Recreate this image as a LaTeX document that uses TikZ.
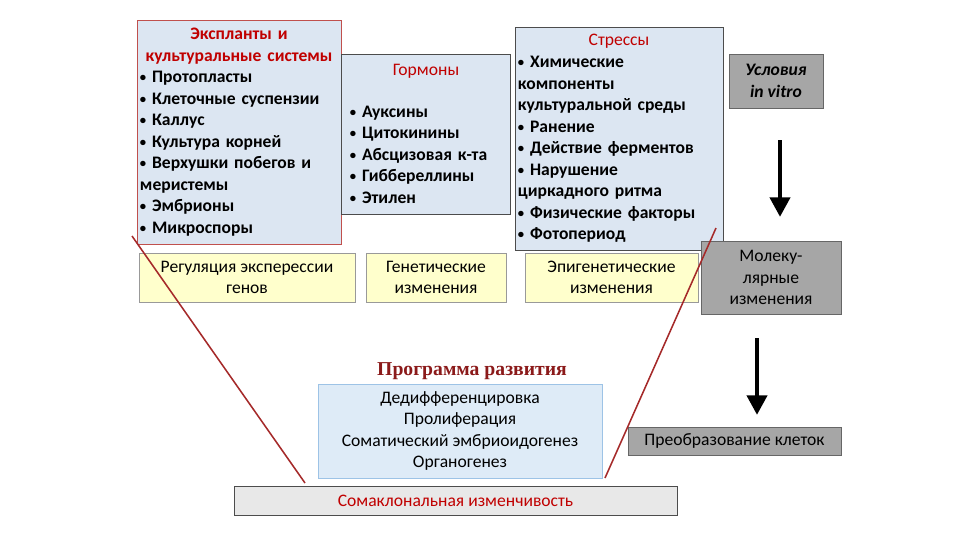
\documentclass[tikz,border=0pt]{standalone}
\usepackage{fontspec}
\setmainfont{Carlito}
\newfontfamily\timesfont{Liberation Serif}
\usetikzlibrary{positioning, arrows.meta}
\definecolor{boxblue}{HTML}{DCE6F2}
\definecolor{progblue}{HTML}{DEEBF7}
\definecolor{progline}{HTML}{9DC3E6}
\definecolor{boxyellow}{HTML}{FFFFCC}
\definecolor{boxgrey}{HTML}{A6A6A6}
\definecolor{lightgrey}{HTML}{E8E8E8}
\definecolor{darkred}{HTML}{C00000}
\definecolor{progred}{HTML}{8B1A1A}
\definecolor{crossred}{HTML}{A52A2A}
\definecolor{explline}{HTML}{C0504D}
\newcommand{\bodyfont}{\fontsize{12.5}{15.3}\selectfont}
\newcommand{\bul}{{\fontsize{9}{9}\selectfont\raisebox{0.6pt}{•}}~}
\tikzset{
  > = {Triangle[length = 14pt, width = 14pt]},
  factor/.style = {draw = black!70, fill = boxblue, inner sep = 2pt, align = left,
    font = \bodyfont\bfseries},
  effect/.style = {draw = black!40, fill = boxyellow, align = center,
    minimum height = 1.225cm, inner sep = 1pt, font = \bodyfont},
  greybox/.style = {draw = black!60, fill = boxgrey, align = center, inner sep = 1pt,
    font = \bodyfont},
  flow/.style = {->, line width = 3.5pt},
  cross/.style = {draw = crossred, line width = 1.1pt}
}

\begin{document}
\begin{tikzpicture}[x = 0.025cm, y = -0.025cm]

\useasboundingbox (0,0) rectangle (960,540);

% factors
\node [factor, draw = explline, text width = 4.95cm, minimum height = 5.6cm] (explants) at (239,132)
  {{\centering\color{darkred}Экспланты и\\ культуральные системы\par}
   \bul Протопласты\\ \bul Клеточные суспензии\\ \bul Каллус\\ \bul Культура корней\\
   \bul Верхушки побегов и\\ меристемы\\ \bul Эмбрионы\\ \bul Микроспоры};
\node [factor, text width = 3.8cm, inner xsep = 6pt, minimum height = 4cm] (hormones) at (426,134)
  {{\centering\mdseries\color{darkred}Гормоны\par}\vspace{14pt}
   \bul Ауксины\\ \bul Цитокинины\\ \bul Абсцизовая к-та\\ \bul Гиббереллины\\ \bul Этилен};
\node [factor, text width = 5.05cm, minimum height = 5.575cm] (stresses) at (619,138.5)
  {{\centering\mdseries\color{darkred}Стрессы\par}
   \bul Химические\\ компоненты\\ культуральной среды\\ \bul Ранение\\
   \bul Действие ферментов\\ \bul Нарушение\\ циркадного ритма\\
   \bul Физические факторы\\ \bul Фотопериод};
\node [greybox, minimum width = 2.35cm, minimum height = 1.35cm,
  font = \bodyfont\bfseries\itshape] (vitro) at (776,81) {Условия\\ in vitro};

% effects
\node [effect, minimum width = 5.4cm] (regulation) at (247,277.5) {Регуляция экспересcии\\ генов};
\node [effect, minimum width = 3.5cm] (genetic) at (436,277.5) {Генетические\\ изменения};
\node [effect, minimum width = 4.325cm] (epigenetic) at (611.5,277.5) {Эпигенетические\\ изменения};
\node [greybox, minimum width = 3.5cm, minimum height = 1.825cm] (molecular) at (771,277.5)
  {Молеку-\\ лярные\\ изменения};

% program
\node [font = \timesfont\fontsize{14}{16}\selectfont\bfseries, text = progred] (progtitle) at (472,371)
  {Программа развития};
\node [draw = progline, fill = progblue, align = center, minimum width = 7.1cm,
  minimum height = 2.35cm, font = \bodyfont] (program) at (460,431)
  {Дедифференцировка\\ Пролиферация\\ Соматический эмбриоидогенез\\ Органогенез};
\node [greybox, minimum width = 5.325cm, minimum height = 0.7cm] (transform) at (734.5,441)
  {Преобразование клеток};
\node [draw = black!70, fill = lightgrey, minimum width = 11.075cm, minimum height = 0.725cm,
  font = \bodyfont, text = darkred] (somaclonal) at (455.5,500.5) {Сомаклональная изменчивость};

% arrows
\draw [flow] (780,140) coordinate (a1) -- (780,217) coordinate (a2);
\draw [flow] (757,338) coordinate (b1) -- (757,415) coordinate (b2);

% crossing lines
\coordinate (cl1) at (132,236);
\coordinate (cl2) at (305,483);
\coordinate (cr1) at (716,228);
\coordinate (cr2) at (605,478);
\draw [cross] (cl1) -- (cl2);
\draw [cross] (cr1) -- (cr2);

\end{tikzpicture}
\end{document}
